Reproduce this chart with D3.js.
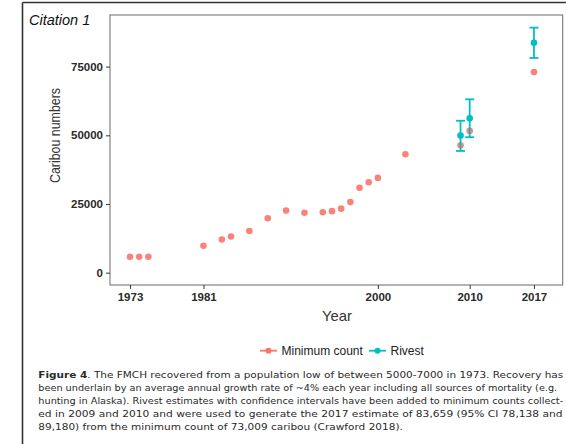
<!DOCTYPE html>
<html>
<head>
<meta charset="utf-8">
<script src="https://cdnjs.cloudflare.com/ajax/libs/d3/7.8.5/d3.min.js"></script>
<style>
  body { margin: 0; background: #fff; }
  svg { display: block; }
</style>
</head>
<body>
<script>
// minimum counts
var minYears = [1973, 1974, 1975, 1981, 1983, 1984, 1986, 1988, 1990, 1992, 1994,
                1995, 1996, 1997, 1998, 1999, 2000, 2003, 2009, 2010, 2017];
var minCounts = [5800, 5800, 5800, 9800, 12100, 13200, 15200, 19800, 22600, 21800, 22000,
                 22400, 23300, 25700, 30900, 32900, 34500, 43100, 46400, 51600, 73009];

// Rivest estimates with CI
var rivestYears = [2009, 2010, 2017];
var rivestEst = [49900, 56200, 83659];
var rivestLow = [44300, 49300, 78138];
var rivestHigh = [55300, 63100, 89180];

var xTicks = [1973, 1981, 2000, 2010, 2017];
var yTicks = [0, 25000, 50000, 75000];

var legendLabels = ["Minimum count", "Rivest"];

var captionLines = [
  ". The FMCH recovered from a population low of between 5000-7000 in 1973. Recovery has",
  "been underlain by an average annual growth rate of ~4% each year including all sources of mortality (e.g.",
  "hunting in Alaska). Rivest estimates with confidence intervals have been added to minimum counts collect-",
  "ed in 2009 and 2010 and were used to generate the 2017 estimate of 83,659 (95% CI 78,138 and",
  "89,180) from the minimum count of 73,009 caribou (Crawford 2018)."
];

var pink = "#F8766D", teal = "#00BFC4";

var svgWidth = 566, svgHeight = 444;
var margin = { top: 15, right: 3.3, bottom: 159, left: 110 };
var chartwidth = svgWidth - margin.left - margin.right;
var chartheight = svgHeight - margin.top - margin.bottom;

var svg = d3.select("body").append("svg")
  .attr("width", svgWidth)
  .attr("height", svgHeight);

// outer frame (top + left)
svg.append("line").attr("x1", 22.5).attr("x2", svgWidth).attr("y1", 2.5).attr("y2", 2.5)
  .attr("stroke", "#333").attr("stroke-width", 1.6);
svg.append("line").attr("x1", 22.5).attr("x2", 22.5).attr("y1", 2.5).attr("y2", svgHeight)
  .attr("stroke", "#333").attr("stroke-width", 1.6);

svg.append("text")
  .attr("x", 29).attr("y", 24.5)
  .attr("font-family", "Liberation Sans, Arial, sans-serif")
  .attr("font-style", "italic")
  .attr("font-size", "14.5px")
  .attr("fill", "#111")
  .text("Citation 1");

var chartGroup = svg.append("g")
  .attr("transform", `translate(${margin.left}, ${margin.top})`);

var xScale = d3.scaleLinear().domain([1970.82, 2020.13]).range([0, chartwidth]);
var yScale = d3.scaleLinear().domain([-4476, 93780]).range([chartheight, 0]);

// panel border
chartGroup.append("rect")
  .attr("width", chartwidth).attr("height", chartheight)
  .attr("fill", "none").attr("stroke", "#777").attr("stroke-width", 1.1);

var bottomAxis = d3.axisBottom(xScale).tickValues(xTicks).tickFormat(d3.format("d"))
  .tickSize(4).tickPadding(3.5);
var leftAxis = d3.axisLeft(yScale).tickValues(yTicks).tickFormat(d3.format("d"))
  .tickSize(4).tickPadding(3);

var gx = chartGroup.append("g")
  .attr("transform", `translate(0, ${chartheight})`)
  .call(bottomAxis);
var gy = chartGroup.append("g").call(leftAxis);

[gx, gy].forEach(function(g) {
  g.select(".domain").remove();
  g.selectAll(".tick line").attr("stroke", "#444").attr("stroke-width", 1.1);
  g.selectAll(".tick text")
    .attr("fill", "#2a2a2a")
    .attr("font-family", "Liberation Sans, Arial, sans-serif")
    .attr("font-weight", "bold")
    .attr("font-size", "11.5px");
});

// minimum count points
chartGroup.selectAll("circle.minc")
  .data(minYears)
  .enter()
  .append("circle")
  .attr("class", "minc")
  .attr("cx", d => xScale(d))
  .attr("cy", (d, i) => yScale(minCounts[i]))
  .attr("r", 3.3)
  .attr("fill", pink)
  .attr("opacity", 0.9);

// Rivest error bars
var rg = chartGroup.selectAll("g.riv")
  .data(rivestYears)
  .enter()
  .append("g")
  .attr("class", "riv");

rg.append("line")
  .attr("x1", d => xScale(d)).attr("x2", d => xScale(d))
  .attr("y1", (d, i) => yScale(rivestLow[i]))
  .attr("y2", (d, i) => yScale(rivestHigh[i]))
  .attr("stroke", teal).attr("stroke-width", 1.8);
rg.append("line")
  .attr("x1", d => xScale(d) - 4.5).attr("x2", d => xScale(d) + 4.5)
  .attr("y1", (d, i) => yScale(rivestLow[i]))
  .attr("y2", (d, i) => yScale(rivestLow[i]))
  .attr("stroke", teal).attr("stroke-width", 1.8);
rg.append("line")
  .attr("x1", d => xScale(d) - 4.5).attr("x2", d => xScale(d) + 4.5)
  .attr("y1", (d, i) => yScale(rivestHigh[i]))
  .attr("y2", (d, i) => yScale(rivestHigh[i]))
  .attr("stroke", teal).attr("stroke-width", 1.8);
rg.append("circle")
  .attr("cx", d => xScale(d))
  .attr("cy", (d, i) => yScale(rivestEst[i]))
  .attr("r", 3.3)
  .attr("fill", teal);

// axis titles
svg.append("text")
  .attr("transform", "translate(60, 135.5) rotate(-90)")
  .attr("text-anchor", "middle")
  .attr("font-family", "Liberation Sans, Arial, sans-serif")
  .attr("font-size", "14px")
  .attr("fill", "#333")
  .attr("textLength", 95)
  .attr("lengthAdjust", "spacingAndGlyphs")
  .text("Caribou numbers");

svg.append("text")
  .attr("x", 337).attr("y", 320.5)
  .attr("text-anchor", "middle")
  .attr("font-family", "Liberation Sans, Arial, sans-serif")
  .attr("font-size", "15px")
  .attr("fill", "#333")
  .attr("textLength", 30)
  .attr("lengthAdjust", "spacingAndGlyphs")
  .text("Year");

// legend
var legend = svg.append("g");
var keyX = [260, 369], textX = [281.5, 390.5], keyCols = [pink, teal];
legendLabels.forEach(function(lab, i) {
  legend.append("line")
    .attr("x1", keyX[i]).attr("x2", keyX[i] + 17)
    .attr("y1", 350.7).attr("y2", 350.7)
    .attr("stroke", keyCols[i]).attr("stroke-width", 1.8);
  legend.append("circle")
    .attr("cx", keyX[i] + 8.5).attr("cy", 350.7).attr("r", 3)
    .attr("fill", keyCols[i]);
  legend.append("text")
    .attr("x", textX[i]).attr("y", 355)
    .attr("font-family", "Liberation Sans, Arial, sans-serif")
    .attr("font-size", "12px")
    .attr("fill", "#222")
    .text(lab);
});

// caption
var cap = svg.append("g");
var capY = [378, 391, 404, 417, 430];
var capWidth = [525, 519, 525, 525, 365];
var capText = captionLines.map(function(line, i) {
  var t = cap.append("text")
    .attr("font-family", "DejaVu Sans, sans-serif")
    .attr("font-size", "9.3px")
    .attr("fill", "#2a2a2a");
  if (i === 0) {
    t.append("tspan").attr("font-weight", "bold").text("Figure 4");
    t.append("tspan").text(line);
  } else {
    t.text(line);
  }
  return t;
});
// squeeze each caption line to its width in the picture
capText.forEach(function(t, i) {
  var natural = t.node().getComputedTextLength();
  var sx = capWidth[i] / natural;
  t.attr("transform", `translate(38.3, ${capY[i]}) scale(${sx}, 1)`);
});
</script>
</body>
</html>
